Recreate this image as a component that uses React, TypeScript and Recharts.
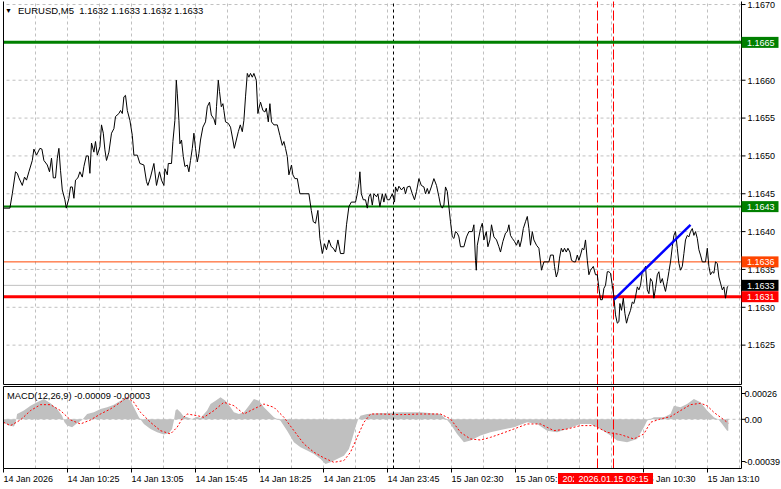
import React from 'react';
import { ComposedChart, Line, Area, XAxis, YAxis, ReferenceLine } from 'recharts';

const FONT = '"Liberation Sans", Arial, sans-serif';

const symbolTitle = 'EURUSD,M5  1.1632 1.1633 1.1632 1.1633';
const macdTitle = 'MACD(12,26,9) -0.00009 -0.00003';

// the 15 Jan 07:50 tick (bar 288) is hidden under the marker boxes in the reference
const timeTicks = [0, 32, 64, 96, 128, 160, 192, 224, 256, 320, 352];
const timeLabels = ['14 Jan 2026', '14 Jan 10:25', '14 Jan 13:05', '14 Jan 15:45', '14 Jan 18:25', '14 Jan 21:05', '14 Jan 23:45', '15 Jan 02:30', '15 Jan 05:10', '15 Jan 10:30', '15 Jan 13:10'];
const gridTimes = [16, 32, 48, 64, 80, 96, 112, 128, 144, 160, 176, 192, 208, 224, 240, 256, 272, 288, 304, 320, 336, 352, 368];
const timeDomain = [0, 369];

const priceTicks = [1.1625, 1.163, 1.1635, 1.164, 1.1645, 1.165, 1.1655, 1.166, 1.1665, 1.167];
const priceDomain = [1.16198, 1.16704];

const macdTicks = [0.00026, 0, -0.00039];
const macdTickLabels = ['0.00026', '0.00', '-0.00039'];
const macdDomain = [-0.00039, 0.00026];

const levelPrices = [1.1665, 1.16433, 1.1636, 1.16329, 1.16314];
const levelLabels = ['1.1665', '1.1643', '1.1636', '1.1633', '1.1631'];

const sessionTime = 195;
const markerTimes = [297, 305];
const markerLabels = ['2026.01.15 08:35', '2026.01.15 09:15'];

const trendStart = [305.2, 1.1631];
const trendEnd = [343.5, 1.16409];

// [bar index, close]
const closeSeries: [number, number][] = [
  [0, 1.16431], [3.2, 1.16431], [4.4, 1.1645], [6, 1.16479], [6.9, 1.16477], [7.7, 1.16471], [9.4, 1.16461], [10.5, 1.16472], [11.5, 1.16468], [12.7, 1.16479], [14.4, 1.16494], [15.2, 1.16509], [16.5, 1.16501], [18.2, 1.1651], [19.2, 1.16509], [20.2, 1.16494], [21.9, 1.16488], [23, 1.16479], [24, 1.16497], [24.9, 1.16471], [26, 1.16471], [26.9, 1.16497], [27.7, 1.1651], [28.5, 1.16481], [29.4, 1.16455], [30.7, 1.16442], [31.4, 1.16431], [32.7, 1.16444], [33.5, 1.16459], [34.4, 1.16459], [35.2, 1.16444], [36, 1.16468], [37.2, 1.16471], [38.2, 1.16479], [39.4, 1.16472], [40.2, 1.16486], [41.4, 1.165], [42.4, 1.165], [43.2, 1.16477], [44, 1.16517], [45.2, 1.16505], [46, 1.16519], [46.9, 1.16501], [48.2, 1.16512], [49, 1.16541], [49.9, 1.1653], [50.7, 1.16508], [51.5, 1.16494], [52.7, 1.16505], [54, 1.1653], [55.2, 1.16536], [56, 1.16552], [57.7, 1.16556], [58.5, 1.1656], [59.4, 1.16556], [60.2, 1.16578], [61, 1.1658], [61.9, 1.1656], [63.2, 1.16547], [64.4, 1.16527], [65.2, 1.16501], [66.9, 1.16501], [68.2, 1.1649], [70.2, 1.16488], [71.5, 1.16466], [72.2, 1.16461], [73.5, 1.16472],
  [75.2, 1.1649], [76.5, 1.16461], [78, 1.16479], [79, 1.16468], [80.2, 1.16461], [80.7, 1.16483], [81.9, 1.16475], [82.4, 1.1649], [84, 1.1649], [84.7, 1.16519], [85.7, 1.16547], [86.4, 1.166], [86.9, 1.16582], [87.7, 1.16547], [88.2, 1.16516], [89, 1.16521], [89.9, 1.16499], [90.7, 1.16486], [91.9, 1.16488], [92.7, 1.16479], [93.5, 1.16494], [94.4, 1.1651], [95.2, 1.1653], [96, 1.1651], [96.9, 1.16492], [97.7, 1.16503], [98.5, 1.16521], [99.7, 1.16538], [101, 1.16545], [101.9, 1.16565], [103, 1.16571], [103.9, 1.16554], [105.2, 1.16549], [106, 1.16541], [106.5, 1.16565], [107.4, 1.166], [108, 1.16585], [108.9, 1.16565], [109.7, 1.16569], [110.2, 1.1656], [111, 1.16545], [112.4, 1.16543], [113.5, 1.16538], [114.7, 1.16521], [115.4, 1.1651], [116.4, 1.16521], [117.4, 1.16532], [118.4, 1.16541], [119.4, 1.16532], [120.2, 1.16547], [121, 1.16578], [121.9, 1.16609], [122.7, 1.16604], [123.5, 1.16609], [124.4, 1.16604], [125.2, 1.16609], [126.4, 1.166], [127.2, 1.16556], [127.7, 1.16563], [128.5, 1.16571], [129.7, 1.1656], [130.7, 1.16558], [131.4, 1.16563], [132.4, 1.16545], [133.2, 1.16569], [134, 1.16545], [135.2, 1.16541], [136.9, 1.16541], [138.2, 1.16527], [139.4, 1.16514], [140.2, 1.16519], [141, 1.1651], [141.9, 1.16499], [142.7, 1.16475], [144, 1.16488], [144.7, 1.16475], [145.7, 1.1647],
  [146.9, 1.1647], [148.2, 1.1645], [152.7, 1.1645], [153.9, 1.16428], [154.9, 1.16413], [156, 1.16411], [157.2, 1.16428], [158.2, 1.16391], [159.4, 1.16371], [160.5, 1.16384], [161.5, 1.16376], [162.7, 1.16389], [163.9, 1.1638], [164.9, 1.16378], [166, 1.16373], [167.2, 1.16389], [168.5, 1.16371], [170.2, 1.16371], [171.5, 1.16409], [172.7, 1.16433], [173.9, 1.16439], [176, 1.16439], [176.9, 1.1645], [177.7, 1.16464], [178.2, 1.16479], [178.9, 1.1645], [179.9, 1.16442], [181, 1.16442], [181.9, 1.16431], [182.7, 1.16446], [183.5, 1.1645], [184.4, 1.16435], [185.2, 1.1645], [186.5, 1.16446], [187.2, 1.1645], [188.2, 1.16433], [189.4, 1.1645], [190.2, 1.16439], [191, 1.1645], [191.9, 1.16442], [193, 1.16442], [194.4, 1.1645], [195.5, 1.16439], [196, 1.16459], [196.9, 1.16453], [197.7, 1.1646], [199, 1.16455], [200.2, 1.16459], [201, 1.1645], [201.9, 1.16459], [203.2, 1.1646], [204.4, 1.1645], [205.5, 1.16442], [206.5, 1.16453], [207.7, 1.1647], [208.9, 1.16461], [210.2, 1.16459], [211, 1.1645], [211.9, 1.16457], [212.7, 1.1645], [213.9, 1.16459], [215.2, 1.1647], [216.5, 1.16461], [217.7, 1.16446], [218.5, 1.16435], [219.4, 1.16431], [220.2, 1.16435], [221, 1.16459], [221.9, 1.16453], [222.7, 1.16433], [223.5, 1.16413], [224.4, 1.16393], [225.2, 1.16391], [226, 1.164], [226.9, 1.16398], [227.7, 1.16393], [228.5, 1.1638], [230.2, 1.1638], [231.5, 1.16393], [232.7, 1.164], [234.4, 1.164], [235.2, 1.16409], [236, 1.16362], [236.4, 1.16349], [236.9, 1.16382], [237.7, 1.16393], [238.5, 1.16404], [239.4, 1.16411], [240.2, 1.16389], [241.4, 1.164], [242.2, 1.1638], [243.2, 1.16389], [244, 1.16409], [245.2, 1.16393], [246.5, 1.16389], [247.7, 1.1638], [248.5, 1.16373], [249.7, 1.16387], [251, 1.16398], [251.9, 1.164], [252.7, 1.16409], [253.5, 1.16395], [254.4, 1.16391], [255.5, 1.16387], [256.5, 1.16382], [257.4, 1.16389], [258.2, 1.1638], [259, 1.16389], [259.9, 1.16404], [261, 1.16413], [261.9, 1.1642], [262.7, 1.16404], [263.5, 1.16382], [264.4, 1.164], [265.2, 1.16389], [266.5, 1.16382], [267.7, 1.16378], [268.5, 1.1636], [269, 1.16349], [270.2, 1.1636], [272.7, 1.1636], [273.5, 1.16369], [274.9, 1.16369], [275.5, 1.16354], [276.4, 1.1634], [277.2, 1.16347], [278, 1.16365], [278.9, 1.16378], [279.7, 1.16373], [280.5, 1.16378], [281.4, 1.16373], [282.2, 1.16378], [283.2, 1.16373], [284, 1.16362], [285.2, 1.1636], [286, 1.1636], [286.9, 1.16369], [287.7, 1.16362], [288.5, 1.16369], [289.4, 1.16378], [290.2, 1.16376], [291, 1.16389], [291.9, 1.16362], [292.7, 1.16343], [293.5, 1.16349],
  [294.9, 1.16354], [296, 1.16343], [296.9, 1.16343], [297.7, 1.16325], [298.5, 1.1631], [299.4, 1.1631], [300.2, 1.16325], [301, 1.16329], [301.9, 1.16347], [302.7, 1.16347], [303.5, 1.16345], [304.4, 1.16329], [305.2, 1.16314], [306, 1.1629], [306.9, 1.16279], [307.7, 1.16281], [308.2, 1.16305], [309, 1.16296], [309.9, 1.16312], [310.7, 1.16292], [311.5, 1.16279], [312.4, 1.16288], [313.5, 1.16296], [314.4, 1.16307], [315.2, 1.16305], [316, 1.16314], [316.9, 1.16327], [317.7, 1.16323], [318.5, 1.16329], [319.4, 1.16347], [320.2, 1.16349], [321, 1.16354], [321.9, 1.16323], [322.7, 1.16318], [323.5, 1.16338], [324.4, 1.16334], [325.2, 1.16312], [326, 1.16325], [326.9, 1.16343], [327.7, 1.16347], [328.5, 1.16332], [329.4, 1.16338], [330.2, 1.16329], [331, 1.16321], [331.9, 1.16334], [332.7, 1.16347], [333.5, 1.1636], [334.4, 1.1638], [335.2, 1.16395], [336, 1.164], [336.9, 1.16378], [337.7, 1.16358], [338.5, 1.16349], [339.4, 1.16354], [340.2, 1.16371], [341, 1.16389], [341.9, 1.16395], [342.7, 1.16393], [343.5, 1.164], [344.4, 1.16404], [345.2, 1.16395], [346, 1.164], [346.9, 1.16391], [347.7, 1.16376], [348.5, 1.16369], [349.4, 1.1636], [351, 1.1636], [351.9, 1.16378], [352.7, 1.16354], [353.5, 1.16343], [354.4, 1.16347], [355.2, 1.16345], [356, 1.1636], [356.9, 1.16358], [357.7, 1.1634], [358.5, 1.16332], [359.4, 1.16323], [360.2, 1.16327], [361, 1.16312], [361.9, 1.16327], [362.4, 1.16328],
];

// [bar index, MACD main (histogram)]
const macdHist: [number, number][] = [
  [0, -0.000024], [2.7, -0.00005], [5.2, -0.000058], [6, -0.000032], [6.8, 0.000042], [10.2, 0.000069], [13.5, 0.000108], [16.8, 0.000135], [20.2, 0.000161], [23.5, 0.000127], [26.8, 0.000082], [29.3, 0.000029], [30.5, -0.000024], [31.8, -0.00005], [34.3, -0.000063], [36.8, -0.000032], [39.3, -0.000005], [41.8, 0.000042], [45.2, 0.000055], [48.5, 0.000082], [51.8, 0.000095], [55.2, 0.000116], [58.5, 0.000148], [61, 0.000174], [63.5, 0.000148], [65.2, 0.000095], [67.7, 0.000016], [70.2, -0.000037], [73.5, -0.000077], [76.8, -0.000103], [80.2, -0.000121], [82.7, -0.000111], [84.3, -0.000077], [85.2, -0.000011], [86, 0.000069], [86.8, 0.000082], [88.5, 0.000055], [89.8, 0.000029], [91.8, 0.000016], [94.3, 0.000003], [96.8, 0.000021], [98.5, 0.000011], [101.8, 0.000069], [103.5, 0.000121], [106, 0.000148], [108.5, 0.000174], [111, 0.000148], [113.5, 0.000095], [115.2, 0.000055], [117.7, 0.000042], [120.2, 0.000055], [122.7, 0.000108], [125.2, 0.000161], [127.7, 0.000148], [130.2, 0.000095], [132.7, 0.000055], [135.2, 0.000016], [138.5, -0.000011], [141.8, -0.00009], [145.2, -0.000182], [148.5, -0.000222], [151.8, -0.000248], [155.2, -0.000275], [158.5, -0.000314], [161, -0.000354], [163.5, -0.000341], [166.8, -0.000314], [170.2, -0.000288], [172.7, -0.000235], [174.3, -0.000156], [176, -0.000063], [177.2, -0.000005], [178.5, 0.000029], [181.8, 0.000042], [186.8, 0.000048], [191.8, 0.00005], [198.5, 0.000055], [208.5, 0.000055], [218.5, 0.000042], [221.8, -0.000005], [223.5, -0.000037], [226.8, -0.000116], [230.2, -0.000182], [233.5, -0.000169], [238.5, -0.000129], [243.5, -0.000103], [248.5, -0.000084], [255.2, -0.000063], [261.8, -0.000024], [266.8, -0.000037], [271.8, -0.00009], [276.8, -0.000103], [281.8, -0.000077], [288.5, -0.000037], [293.5, -0.000037], [298.5, -0.000077], [303.5, -0.000129], [306.8, -0.000169], [311.8, -0.000182], [316.8, -0.000156], [320.2, -0.000063], [321.8, -0.000011], [325.2, 0.000016], [330.2, 0.000016], [333.5, 0.000042], [335.2, 0.000108], [338.5, 0.000095], [341.8, 0.000121], [345.2, 0.000161], [348.5, 0.000135], [351.8, 0.000069], [355.2, 0.000016], [357.7, -0.000005], [359.3, -0.000037], [361.8, -0.00009], [362.4, -0.00009],
];

// [bar index, MACD signal]
const macdSignal: [number, number][] = [
  [0, -0.000024], [3.5, -0.00005], [8.5, -0.000005], [13.5, 0.000069], [18.5, 0.000116], [23.5, 0.000116], [28.5, 0.000069], [33.5, -0.000005], [38.5, -0.000037], [43.5, -0.000005], [48.5, 0.000042], [53.5, 0.000082], [58.5, 0.000135], [61.8, 0.000174], [65.2, 0.000135], [68.5, 0.000055], [73.5, -0.000024], [78.5, -0.00009], [83.5, -0.000116], [86.8, -0.000063], [89.3, 0.000003], [91.8, 0.000042], [96.8, 0.000029], [100.2, 0.000016], [105.2, 0.000069], [110.2, 0.000135], [115.2, 0.000108], [120.2, 0.000042], [125.2, 0.000082], [130.2, 0.000121], [135.2, 0.000095], [140.2, 0.000016], [145.2, -0.00009], [150.2, -0.000195], [155.2, -0.000261], [160.2, -0.000306], [165.2, -0.000341], [170.2, -0.000327], [173.5, -0.000261], [176.8, -0.000143], [180.2, -0.000024], [183.5, 0.000042], [188.5, 0.000042], [198.5, 0.000037], [208.5, 0.000042], [218.5, 0.000042], [223.5, 0.000003], [228.5, -0.000103], [233.5, -0.000156], [238.5, -0.000164], [243.5, -0.000143], [248.5, -0.000116], [255.2, -0.000077], [261.8, -0.000037], [268.5, -0.000037], [275.2, -0.00009], [281.8, -0.000077], [288.5, -0.00005], [295.2, -0.00005], [301.8, -0.000103], [308.5, -0.000121], [315.2, -0.000156], [320.2, -0.000116], [323.5, -0.000024], [328.5, 0.000003], [333.5, 0.000021], [338.5, 0.000069], [343.5, 0.000116], [348.5, 0.000127], [351.8, 0.000108], [355.2, 0.000055], [358.5, 0.000016], [362.4, -0.00003],
];

const closeData = closeSeries.map(([t, v]) => ({ t, v }));
const histData = macdHist.map(([t, v]) => ({ t, v }));
const signalData = macdSignal.map(([t, v]) => ({ t, v }));

const levelStyle = [
  { stroke: '#008000', width: 3, box: '#008000' },
  { stroke: '#008000', width: 2, box: '#008000' },
  { stroke: '#FF4500', width: 1, box: '#FF4500' },
  { stroke: '#C0C0C0', width: 1, box: '#000000' },
  { stroke: '#FF0000', width: 3, box: '#FF0000' },
];
const markerClip = [16.5, 0];

const GRID = '#C0C0C0';
const MAIN_MARGIN = { top: 1.5, right: 0, bottom: 1.5, left: 3.5 };
const MACD_MARGIN = { top: 0.5, right: 0, bottom: 0, left: 3.5 };
const AXIS_W = 39.5;

const priceBox = (text: string, fill: string) => (props: any) => {
  const vb = props.viewBox || {};
  const x = (vb.x ?? 0) + (vb.width ?? 0);
  const y = vb.y ?? 0;
  return (
    <g>
      <rect x={x} y={y - 5.5} width={37} height={11} fill={fill} />
      <text x={x + 5.5} y={y + 3.5} fill="#FFFFFF" fontSize={9} fontFamily={FONT}>{text}</text>
    </g>
  );
};

const timeBox = (text: string, clipW: number, id: string) => (props: any) => {
  const vb = props.viewBox || {};
  const cx = vb.x ?? 0;
  const bottom = (vb.y ?? 0) + (vb.height ?? 0);
  const left = cx - 39.5;
  return (
    <g>
      {clipW > 0 && (
        <defs>
          <clipPath id={id}>
            <rect x={left} y={bottom + 4} width={clipW} height={12} />
          </clipPath>
        </defs>
      )}
      <g clipPath={clipW > 0 ? `url(#${id})` : undefined}>
        <rect x={left} y={bottom + 4.5} width={79} height={11} fill="#FF0000" />
        <text x={cx} y={bottom + 13.3} textAnchor="middle" fill="#FFFFFF" fontSize={9} fontFamily={FONT}>{text}</text>
      </g>
    </g>
  );
};

const PriceTick = (props: any) => {
  const { x, y, payload } = props;
  return (
    <text x={x} y={y} dy={3.3} fontSize={9} fontFamily={FONT} fill="#000" textAnchor="start">
      {Number(payload.value).toFixed(4)}
    </text>
  );
};

const MacdTick = (props: any) => {
  const { x, y, payload } = props;
  const i = macdTicks.indexOf(payload.value);
  const off = i === 0 ? 7 : i === 2 ? -7 : 0;
  return (
    <g>
      <line x1={x - 6} x2={x - 2} y1={y + off} y2={y + off} stroke="#000" />
      <text x={x - 3} y={y + off} dy={3.3} fontSize={9} fontFamily={FONT} fill="#000" textAnchor="start">
        {macdTickLabels[i]}
      </text>
    </g>
  );
};

const TimeTick = (props: any) => {
  const { x, y, payload } = props;
  const i = timeTicks.indexOf(payload.value);
  return (
    <text x={x} y={y} dy={7} fontSize={9} fontFamily={FONT} fill="#000" textAnchor="start">
      {timeLabels[i]}
    </text>
  );
};

const abs = (top: number): React.CSSProperties => ({ position: 'absolute', left: 0, top, pointerEvents: 'none' });

export default function App() {
  return (
    <div style={{ position: 'absolute', left: 0, top: 0, width: 781, height: 489, background: '#FFFFFF', overflow: 'hidden', fontFamily: FONT }}>
      {/* main price panel */}
      <div style={abs(0)}>
        <ComposedChart width={781} height={386} margin={MAIN_MARGIN}>
          <XAxis type="number" dataKey="t" domain={timeDomain} hide allowDataOverflow />
          <YAxis
            type="number"
            orientation="right"
            domain={priceDomain}
            ticks={priceTicks}
            width={AXIS_W}
            allowDataOverflow
            interval={0}
            tickSize={4}
            tickMargin={2}
            axisLine={{ stroke: '#000' }}
            tickLine={{ stroke: '#000' }}
            tick={<PriceTick />}
          />
          {priceTicks.map((p) => (
            <ReferenceLine key={'hg' + p} y={p} stroke={GRID} strokeDasharray="3 3" />
          ))}
          {gridTimes.map((t) => (
            <ReferenceLine key={'vg' + t} x={t} stroke={GRID} strokeDasharray="3 3" />
          ))}
          <ReferenceLine x={sessionTime} stroke="#000" strokeDasharray="3 3" />
          {markerTimes.map((t) => (
            <ReferenceLine key={'mk' + t} x={t} stroke="#FF0000" strokeDasharray="10 3" />
          ))}
          {levelPrices.map((p, i) => (
            <ReferenceLine key={'lv' + i} y={p} stroke={levelStyle[i].stroke} strokeWidth={levelStyle[i].width} />
          ))}
          <Line data={closeData} dataKey="v" type="linear" stroke="#000" strokeWidth={1} dot={false} isAnimationActive={false} />
          <ReferenceLine
            segment={[{ x: trendStart[0], y: trendStart[1] }, { x: trendEnd[0], y: trendEnd[1] }]}
            stroke="#0000FF"
            strokeWidth={2.5}
          />
          <ReferenceLine x={timeDomain[0]} stroke="#000" />
          <ReferenceLine y={priceDomain[0]} stroke="#000" />
        </ComposedChart>
      </div>

      {/* price level boxes on top of the axis labels */}
      <div style={abs(0)}>
        <ComposedChart width={781} height={386} margin={{ ...MAIN_MARGIN, right: AXIS_W }}>
          <XAxis type="number" dataKey="t" domain={timeDomain} hide allowDataOverflow />
          <YAxis type="number" domain={priceDomain} hide allowDataOverflow />
          {levelPrices.map((p, i) => (
            <ReferenceLine key={'lb' + i} y={p} stroke="none" label={priceBox(levelLabels[i], levelStyle[i].box)} />
          ))}
        </ComposedChart>
      </div>

      {/* MACD panel */}
      <div style={abs(386)}>
        <ComposedChart width={781} height={103} margin={MACD_MARGIN}>
          <XAxis
            type="number"
            dataKey="t"
            domain={timeDomain}
            ticks={timeTicks}
            interval={0}
            allowDataOverflow
            height={20.5}
            tickSize={4}
            tickMargin={2}
            axisLine={{ stroke: '#000' }}
            tickLine={{ stroke: '#000' }}
            tick={<TimeTick />}
          />
          <YAxis
            type="number"
            orientation="right"
            domain={macdDomain}
            ticks={macdTicks}
            width={AXIS_W}
            allowDataOverflow
            interval={0}
            tickSize={4}
            tickMargin={2}
            axisLine={{ stroke: '#000' }}
            tickLine={false}
            tick={<MacdTick />}
          />
          {gridTimes.map((t) => (
            <ReferenceLine key={'mvg' + t} x={t} stroke={GRID} strokeDasharray="3 3" />
          ))}
          <ReferenceLine y={0} stroke={GRID} strokeDasharray="3 3" />
          <Area data={histData} dataKey="v" type="linear" stroke="none" fill="#C0C0C0" fillOpacity={1} baseValue={0} isAnimationActive={false} />
          <Line data={signalData} dataKey="v" type="linear" stroke="#FF0000" strokeWidth={1} strokeDasharray="2 2" dot={false} isAnimationActive={false} />
          <ReferenceLine x={sessionTime} stroke="#000" strokeDasharray="3 3" />
          {markerTimes.map((t) => (
            <ReferenceLine key={'mm' + t} x={t} stroke="#FF0000" strokeDasharray="10 3" />
          ))}
          <ReferenceLine x={timeDomain[0]} stroke="#000" />
          <ReferenceLine y={macdDomain[1]} stroke="#000" />
        </ComposedChart>
      </div>

      {/* time marker boxes on top of the time axis labels */}
      <div style={abs(386)}>
        <ComposedChart width={781} height={103} margin={{ ...MACD_MARGIN, right: AXIS_W, bottom: 20.5 }}>
          <XAxis type="number" dataKey="t" domain={timeDomain} hide allowDataOverflow />
          <YAxis type="number" domain={macdDomain} hide allowDataOverflow />
          {markerTimes.map((t, i) => (
            <ReferenceLine key={'tb' + t} x={t} stroke="none" label={timeBox(markerLabels[i], markerClip[i], 'tbclip' + i)} />
          ))}
        </ComposedChart>
      </div>

      <svg width={781} height={489} style={{ position: 'absolute', left: 0, top: 0, pointerEvents: 'none' }}>
        <text x={5} y={13} fontSize={7} fontFamily={FONT} fill="#000">▼</text>
        <text x={18} y={14} fontSize={9.5} fontFamily={FONT} fill="#000" style={{ whiteSpace: 'pre' }}>{symbolTitle}</text>
        <text x={7} y={399} fontSize={9.3} fontFamily={FONT} fill="#000">{macdTitle}</text>
      </svg>
    </div>
  );
}
